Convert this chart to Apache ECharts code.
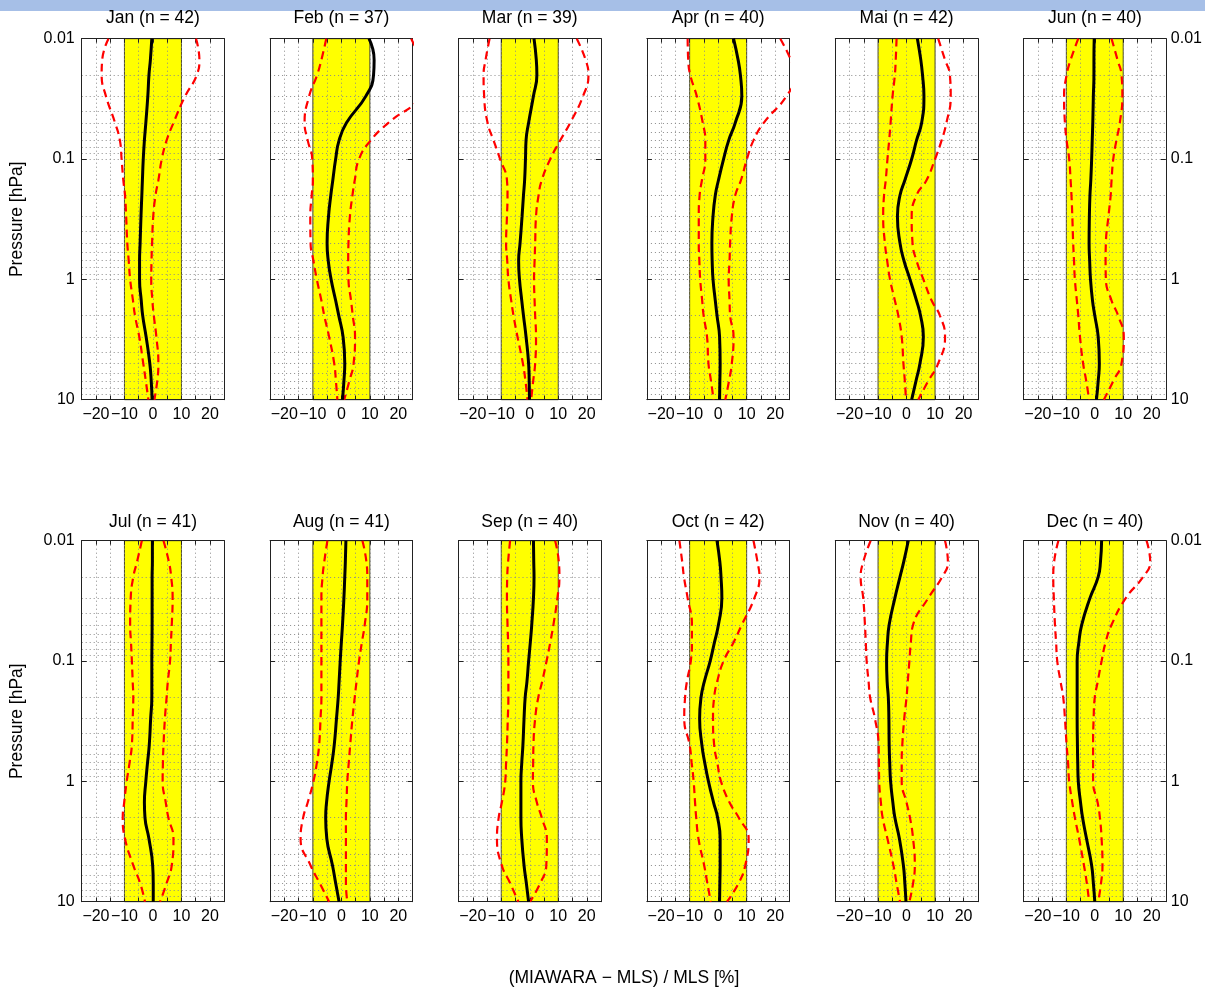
<!DOCTYPE html>
<html>
<head>
<meta charset="utf-8">
<script src="https://cdn.jsdelivr.net/npm/echarts@6/dist/echarts.min.js"></script>
<style>
html,body{margin:0;padding:0;background:#fff;}
#chart{width:1205px;height:990px;}
</style>
</head>
<body>
<div id="chart"></div>
<script>
// ---------------- data ----------------
const months = ['Jan','Feb','Mar','Apr','Mai','Jun','Jul','Aug','Sep','Oct','Nov','Dec'];
const counts = [42,37,39,40,42,40,41,41,40,42,40,40];
const pressure = [0.01,0.015,0.02,0.03,0.05,0.07,0.1,0.15,0.2,0.3,0.5,0.7,1,1.5,2,3,5,7,10];

const meanDiff = [
  [-0.4,-0.9,-1.4,-1.8,-2.5,-3.0,-3.4,-3.7,-3.9,-4.2,-4.5,-4.7,-4.7,-4.1,-3.6,-2.4,-1.1,-0.6,-0.3],
  [9.7,11.5,11.3,8.6,1.8,-0.8,-2.0,-3.0,-3.7,-4.5,-5.0,-4.6,-3.6,-2.0,-0.9,0.6,1.2,0.9,0.4],
  [1.5,2.3,2.5,1.3,-0.4,-1.3,-1.5,-1.8,-2.2,-2.7,-3.4,-3.9,-3.6,-2.8,-2.2,-1.3,-0.4,-0.2,-0.1],
  [5.4,7.0,7.8,8.3,6.0,3.7,1.9,0.1,-1.0,-1.8,-2.2,-2.1,-1.8,-1.0,-0.4,0.5,0.7,0.6,0.5],
  [3.8,5.0,5.6,6.1,5.3,3.5,1.8,-0.6,-2.3,-3.2,-2.3,-0.9,1.2,3.5,4.9,5.9,4.7,3.3,1.8],
  [-0.2,-0.3,-0.3,-0.5,-0.7,-0.9,-1.1,-1.4,-1.7,-1.9,-2.0,-1.8,-1.5,-0.8,0.0,1.2,1.6,1.2,0.6],
  [-0.2,-0.2,-0.3,-0.3,-0.3,-0.35,-0.4,-0.4,-0.4,-0.8,-1.3,-1.9,-2.5,-3.0,-2.8,-1.4,-0.1,0.1,0.1],
  [1.6,1.4,1.2,0.9,0.4,0.0,-0.4,-0.8,-1.1,-1.7,-2.5,-3.3,-4.3,-5.2,-5.5,-5.1,-3.1,-2.0,-0.8],
  [1.3,1.4,1.5,1.3,0.7,0.2,-0.4,-1.0,-1.6,-2.0,-2.4,-2.8,-3.1,-3.1,-3.1,-2.8,-2.0,-1.2,-0.4],
  [-0.4,0.6,1.0,1.3,0.1,-1.3,-2.8,-4.9,-6.0,-6.5,-5.7,-4.7,-3.4,-1.6,-0.2,0.7,0.7,0.6,0.5],
  [0.6,-1.0,-2.3,-4.1,-6.1,-6.7,-7.0,-6.8,-6.4,-6.2,-6.1,-5.9,-5.6,-4.8,-4.1,-2.5,-1.1,-0.6,-0.2],
  [2.4,2.0,1.2,-1.7,-4.6,-5.6,-6.2,-6.2,-6.2,-6.2,-6.1,-6.0,-5.8,-5.0,-4.3,-2.9,-1.1,-0.5,0.0]
];

const lowerDiff = [
  [-15.6,-17.8,-18.0,-16.5,-13.3,-11.6,-11.0,-10.4,-9.8,-9.4,-9.0,-8.5,-8.0,-7.0,-6.3,-4.8,-3.4,-2.5,-1.6],
  [-5.3,-7.0,-8.5,-11.3,-12.9,-11.8,-10.2,-10.0,-10.4,-10.9,-10.8,-9.8,-8.6,-7.0,-6.0,-4.3,-2.5,-1.9,-1.4],
  [-14.1,-15.5,-16.2,-16.0,-14.8,-12.7,-10.4,-8.0,-7.8,-8.0,-8.3,-7.9,-7.5,-6.5,-5.7,-4.3,-2.4,-1.5,-0.8],
  [-10.7,-10.5,-9.8,-7.5,-5.4,-4.5,-4.5,-5.7,-6.5,-6.8,-6.8,-6.6,-6.3,-5.6,-5.1,-3.9,-3.4,-2.5,-1.6],
  [-3.5,-3.8,-4.1,-4.9,-5.6,-6.1,-6.7,-7.3,-7.9,-8.2,-7.6,-6.8,-5.8,-4.1,-2.9,-1.7,-1.1,-0.6,-0.2],
  [-5.8,-8.5,-9.9,-10.8,-10.5,-9.9,-9.0,-8.5,-8.2,-7.9,-7.6,-7.3,-7.0,-6.3,-5.8,-5.2,-4.1,-3.0,-2.0],
  [-3.9,-5.6,-6.9,-7.8,-8.0,-7.7,-7.4,-7.1,-6.9,-7.1,-7.4,-8.2,-9.2,-10.1,-10.6,-9.8,-6.9,-4.5,-2.8],
  [-4.9,-6.0,-6.6,-7.0,-7.0,-7.0,-7.0,-7.0,-7.0,-7.3,-7.8,-8.6,-9.8,-11.8,-13.4,-14.3,-10.8,-7.6,-4.3],
  [-6.9,-7.6,-7.9,-8.0,-7.8,-7.6,-7.5,-7.5,-7.5,-7.7,-8.0,-8.3,-8.6,-9.8,-10.9,-11.5,-9.8,-6.9,-4.0],
  [-13.6,-12.6,-12.0,-10.7,-9.2,-9.2,-9.6,-11.0,-11.6,-11.9,-10.0,-9.3,-8.6,-8.1,-7.7,-6.9,-4.9,-3.8,-2.6],
  [-12.6,-15.2,-16.1,-15.2,-14.6,-14.3,-14.0,-13.3,-12.8,-11.1,-9.8,-9.7,-9.6,-9.0,-8.4,-6.7,-4.6,-3.5,-2.3],
  [-12.8,-14.3,-14.6,-14.4,-14.0,-13.6,-13.2,-12.0,-11.1,-10.5,-9.9,-9.4,-9.0,-7.9,-7.0,-5.5,-3.8,-2.8,-2.0]
];

const upperDiff = [
  [15.1,16.3,15.4,11.3,7.2,4.8,3.1,1.9,0.9,0.1,-0.3,-0.5,-0.6,-0.2,0.3,1.2,1.9,1.5,0.5],
  [24.5,28.0,30.0,28.0,16.5,10.3,6.2,4.7,3.9,3.0,2.5,2.4,2.5,3.4,4.0,4.8,4.3,2.8,1.0],
  [16.5,19.6,20.6,18.7,14.2,10.7,7.2,4.2,3.1,2.2,1.9,1.7,1.5,1.7,1.9,2.2,1.9,1.2,0.5],
  [21.8,25.5,27.0,24.0,16.0,12.4,10.1,8.0,6.0,4.8,4.2,4.0,3.7,4.0,4.2,5.4,4.8,3.8,2.5],
  [11.1,13.5,15.2,15.5,14.0,12.3,10.0,7.0,3.5,1.8,2.1,3.5,5.9,8.8,11.7,13.5,11.1,7.6,4.1],
  [5.9,8.0,9.4,9.7,8.8,7.6,6.5,5.9,5.6,4.8,3.9,3.8,3.9,5.9,8.2,10.2,9.4,6.5,3.2],
  [3.7,5.6,6.4,6.9,6.6,6.3,6.0,5.2,4.8,4.2,3.7,3.5,3.4,4.5,5.4,7.2,6.6,4.8,2.5],
  [7.4,8.8,9.1,9.1,8.2,7.2,6.2,5.3,4.7,3.9,3.1,2.6,2.1,1.8,1.6,1.6,1.6,1.6,2.1],
  [8.9,10.2,10.4,9.7,8.3,7.2,5.9,4.3,3.0,1.9,1.3,1.2,1.1,2.5,4.2,6.0,5.8,3.7,0.1],
  [12.4,13.8,14.5,12.7,8.3,5.4,1.9,-0.4,-1.4,-1.8,-1.4,-0.3,1.0,4.0,7.2,10.7,9.5,7.2,3.1],
  [13.5,14.5,12.5,7.6,2.3,1.5,1.0,0.4,0.0,-0.8,-1.5,-1.7,-1.7,0.0,1.2,2.3,2.9,2.3,1.0],
  [18.2,19.5,17.0,10.9,5.9,3.8,2.4,1.0,0.0,-0.4,-0.6,-0.6,-0.6,1.0,1.8,2.4,2.7,2.2,1.2]
];

const xGridTicks = [-20,-15,-10,-5,0,5,10,15,20];
const pressureGridTicks = [0.02,0.03,0.04,0.05,0.06,0.07,0.08,0.09,0.1,0.2,0.3,0.4,0.5,0.6,0.7,0.8,0.9,1,2,3,4,5,6,7,8,9];
const bandLimits = [-10, 10];
const xLabel = '(MIAWARA \u2212 MLS) / MLS [%]';
const yLabel = 'Pressure [hPa]';

// ---------------- layout ----------------
const FONT = '"Liberation Sans", Arial, Helvetica, sans-serif';
const plotW = 142.5, plotH = 361;
const colStep = 188.4, firstLeft = 81.7;
const rowTops = [38.7, 540.7];

const fmtX = v => {
  if (v % 10 !== 0 || Math.abs(v) > 20) return '';
  return v < 0 ? '\u2212' + (-v) : String(v);
};
const fmtY = v => String(Number(Number(v).toPrecision(3)));

const grids = [], xAxes = [], yAxes = [], series = [], graphics = [];

graphics.push({type:'rect', left:0, top:0, shape:{width:1205, height:11}, style:{fill:'#a6bfe7'}, silent:true});

months.forEach((m, i) => {
  const row = Math.floor(i / 6), col = i % 6;
  const left = firstLeft + col * colStep, top = rowTops[row];
  grids.push({left: left, top: top, width: plotW, height: plotH, containLabel: false});

  const axisLine = {show:true, onZero:false, lineStyle:{color:'#222', width:1}};
  const tick = {show:true, inside:true, length:4, lineStyle:{color:'#222', width:1}};
  const ytick = {show:true, inside:true, length:5, lineStyle:{color:'#222', width:1}};
  // bottom x
  xAxes.push({gridIndex:i, type:'value', min:-25, max:25, interval:5, position:'bottom', z:4,
    axisLine:axisLine, axisTick:tick, splitLine:{show:false},
    axisLabel:{formatter:fmtX, fontSize:16, color:'#000', fontFamily:FONT, margin:7, showMinLabel:true, showMaxLabel:true}});
  // top x (ticks only)
  xAxes.push({gridIndex:i, type:'value', min:-25, max:25, interval:5, position:'top', z:4,
    axisLine:axisLine, axisTick:tick, splitLine:{show:false}, axisLabel:{show:false}});
  // left y
  const yl = {gridIndex:i, type:'log', logBase:10, min:0.01, max:10, inverse:true, splitNumber:3, position:'left', z:4,
    axisLine:axisLine, axisTick:ytick, splitLine:{show:false},
    axisLabel:{show: col === 0, formatter:fmtY, fontSize:16, color:'#000', fontFamily:FONT, margin:7}};
  if (col === 0) {
    yl.name = yLabel; yl.nameLocation = 'middle'; yl.nameGap = 56;
    yl.nameTextStyle = {fontSize:17.5, color:'#000', fontFamily:FONT};
  }
  yAxes.push(yl);
  // right y
  yAxes.push({gridIndex:i, type:'log', logBase:10, min:0.01, max:10, inverse:true, splitNumber:3, position:'right', z:4,
    axisLine:axisLine, axisTick:ytick, splitLine:{show:false},
    axisLabel:{show: col === 5, formatter:fmtY, fontSize:16, color:'#000', fontFamily:FONT, margin:5}});

  const xi = 2 * i, yi = 2 * i;
  const meanPts = pressure.map((p, k) => [meanDiff[i][k], p]);
  const lowPts = pressure.map((p, k) => [lowerDiff[i][k], p]);
  const upPts = pressure.map((p, k) => [upperDiff[i][k], p]);

  // helper series carrying band + grid
  series.push({type:'line', xAxisIndex:xi, yAxisIndex:yi, data:meanPts, symbol:'none', silent:true,
    lineStyle:{opacity:0, width:0}, z:1,
    markArea:{silent:true, z:1, itemStyle:{color:'#ffff00', borderColor:'#4a4a2a', borderWidth:1},
      data:[[{xAxis:bandLimits[0]}, {xAxis:bandLimits[1]}]]},
    markLine:{silent:true, z:2, symbol:['none','none'], label:{show:false}, animation:false,
      lineStyle:{color:'#8a8a8a', width:1, type:[1,3]},
      emphasis:{disabled:true},
      data: xGridTicks.map(v => ({xAxis:v})).concat(pressureGridTicks.map(p => ({yAxis:p})))}
  });
  const dashed = {color:'#ff0000', width:2.2, type:[8,5]};
  series.push({type:'line', xAxisIndex:xi, yAxisIndex:yi, data:lowPts, symbol:'none', smooth:0.5, clip:true, z:5, silent:true, lineStyle:dashed});
  series.push({type:'line', xAxisIndex:xi, yAxisIndex:yi, data:upPts, symbol:'none', smooth:0.5, clip:true, z:5, silent:true, lineStyle:dashed});
  series.push({type:'line', xAxisIndex:xi, yAxisIndex:yi, data:meanPts, symbol:'none', smooth:0.5, clip:true, z:6, silent:true,
    lineStyle:{color:'#000', width:3}});

  graphics.push({type:'text', x:left + plotW / 2, y: row === 0 ? 18.5 : 522, silent:true,
    style:{text: m + ' (n = ' + counts[i] + ')', fill:'#000', font:'17.5px ' + FONT, textAlign:'center', textVerticalAlign:'middle'}});
});

graphics.push({type:'text', x: firstLeft + (5 * colStep + plotW) / 2, y: 978, silent:true,
  style:{text:xLabel, fill:'#000', font:'17.5px ' + FONT, textAlign:'center', textVerticalAlign:'middle'}});

const chart = echarts.init(document.getElementById('chart'), null, {renderer:'canvas'});
chart.setOption({
  animation:false,
  backgroundColor:'#fff',
  grid:grids, xAxis:xAxes, yAxis:yAxes, series:series, graphic:graphics
});
</script>
</body>
</html>
